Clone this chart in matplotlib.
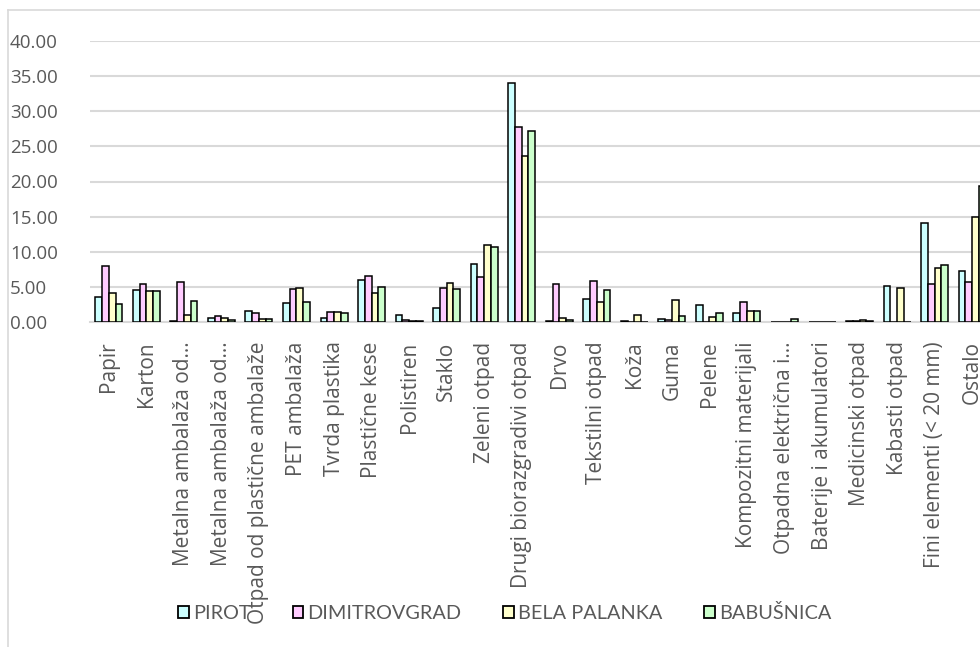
import numpy as np
import matplotlib
matplotlib.use("Agg")
import matplotlib.pyplot as plt
from matplotlib.patches import Patch
from matplotlib.lines import Line2D

categories = ["Papir", "Karton", "Metalna ambalaža od…", "Metalna ambalaža od…",
              "Otpad od plastične ambalaže", "PET ambalaža", "Tvrda plastika",
              "Plastične kese", "Polistiren", "Staklo", "Zeleni otpad",
              "Drugi biorazgradivi otpad", "Drvo", "Tekstilni otpad", "Koža",
              "Guma", "Pelene", "Kompozitni materijali", "Otpadna električna i…",
              "Baterije i akumulatori", "Medicinski otpad", "Kabasti otpad",
              "Fini elementi (< 20 mm)", "Ostalo"]

pirot = [3.5, 4.6, 0.2, 0.5, 1.6, 2.7, 0.5, 5.95, 0.95, 2.0, 8.3, 34.0,
         0.1, 3.3, 0.15, 0.45, 2.4, 1.25, 0.0, 0.0, 0.1, 5.1, 14.1, 7.3]
dimitrovgrad = [8.0, 5.4, 5.7, 0.85, 1.3, 4.7, 1.45, 6.5, 0.3, 4.9, 6.4, 27.7,
                5.4, 5.9, 0.0, 0.3, 0.05, 2.9, 0.0, 0.0, 0.2, 0.0, 5.4, 5.7]
bela_palanka = [4.1, 4.4, 0.95, 0.6, 0.4, 4.8, 1.4, 4.1, 0.2, 5.6, 11.0, 23.6,
                0.5, 2.9, 1.0, 3.2, 0.75, 1.5, 0.0, 0.0, 0.3, 4.9, 7.7, 15.0]
babusnica = [2.6, 4.4, 3.0, 0.3, 0.45, 2.9, 1.25, 4.95, 0.1, 4.7, 10.7, 27.15,
             0.35, 4.6, 0.0, 0.85, 1.3, 1.55, 0.4, 0.0, 0.2, 0.0, 8.1, 19.3]

series_names = ["PIROT", "DIMITROVGRAD", "BELA PALANKA", "BABUŠNICA"]
series = [pirot, dimitrovgrad, bela_palanka, babusnica]
colors = ["#CCFFFF", "#FFCCFF", "#FFFFCC", "#CCFFCC"]

W, H = 980, 647
fig = plt.figure(figsize=(W / 100, H / 100), dpi=100)

# chart frame (left and top edge visible)
fig.add_artist(Line2D([8 / W, 8 / W], [0, 1 - 10 / H], color="#D9D9D9", lw=1.2))
fig.add_artist(Line2D([8 / W, 1], [1 - 10 / H, 1 - 10 / H], color="#D9D9D9", lw=1.2))

left, right, top, bottom = 90, 991, 41, 322
ax = fig.add_axes([left / W, 1 - bottom / H, (right - left) / W, (bottom - top) / H])

x = np.arange(len(categories))
bw = 0.18
for i, (vals, c) in enumerate(zip(series, colors)):
    ax.bar(x + (i - 1.5) * bw, vals, bw, color=c, edgecolor="black", linewidth=1.1,
           zorder=3)

ax.set_xlim(-0.5, len(categories) - 0.5)
ax.set_ylim(0, 40)
ax.set_yticks(np.arange(0, 41, 5))
ax.set_yticklabels([f"{v:.2f}" for v in np.arange(0, 41, 5)],
                   fontsize=13.5, color="#595959", family="Open Sans")
ax.set_xticks(x)
ax.set_xticklabels(categories, rotation=90, fontsize=15, color="#595959",
                   family="Open Sans", va="top", ha="center")
ax.tick_params(axis="x", length=0, pad=14)
ax.tick_params(axis="y", length=0, pad=57.6)
for lbl in ax.get_yticklabels():
    lbl.set_ha("left")
ax.grid(axis="y", color="#D9D9D9", lw=1.5, zorder=0)
for s in ["top", "right", "left"]:
    ax.spines[s].set_visible(False)
ax.spines["bottom"].set_color("#D9D9D9")
ax.spines["bottom"].set_linewidth(1.5)

handles = [Patch(facecolor=c, edgecolor="black", linewidth=1.3) for c in colors]
fig.legend(handles, series_names, loc="center", bbox_to_anchor=(505 / W, 1 - 613 / H),
           ncol=4, frameon=False, prop={"family": "Lato", "size": 14.3},
           labelcolor="#595959", handlelength=0.55, handleheight=0.55,
           handletextpad=0.2, columnspacing=2.1)

fig.savefig("out.png", dpi=100)
